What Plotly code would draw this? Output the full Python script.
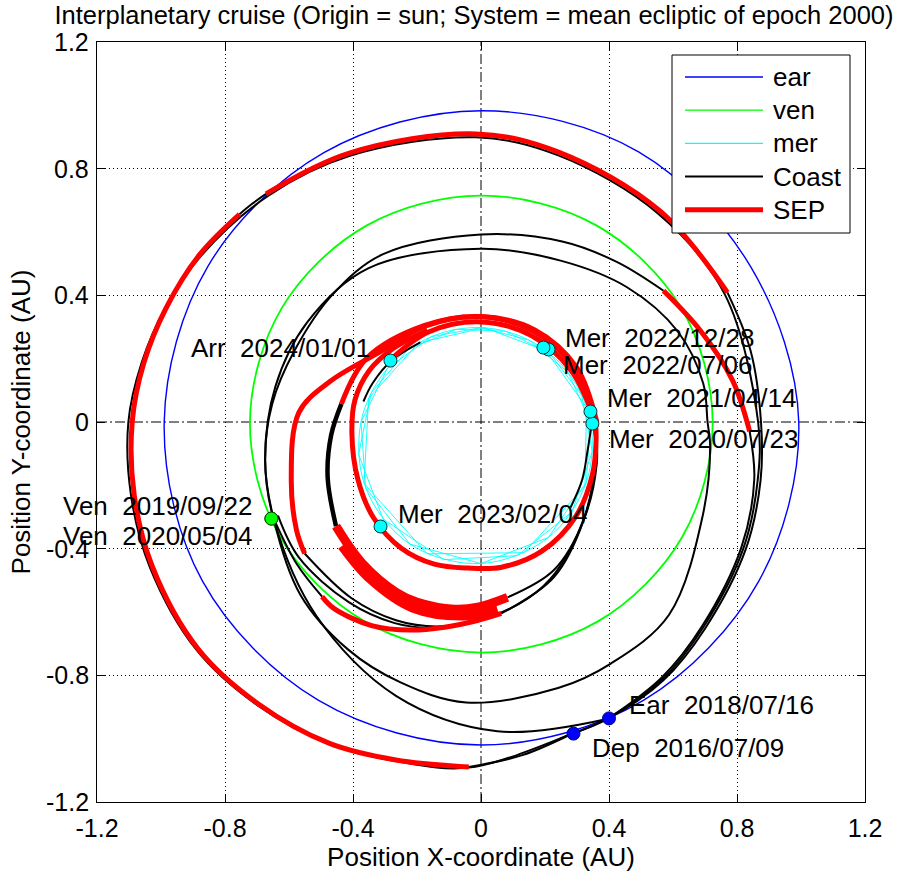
import numpy as np
import plotly.graph_objects as go

# ---------------- data (polar: degrees, AU) ----------------
earth_deg = [0, 30, 60, 90, 120, 150, 180, 210, 240, 270, 300, 330, 360]
earth_au = [0.993, 0.975, 0.985, 0.983, 0.982, 0.985, 0.990, 1.005, 1.015, 1.020, 1.015, 1.003, 0.993]

venus_deg = [0, 30, 60, 90, 120, 150, 180, 210, 240, 270, 300, 330, 360]
venus_au = [0.724, 0.722, 0.718, 0.715, 0.716, 0.719, 0.722, 0.725, 0.727, 0.728, 0.728, 0.726, 0.724]

mercury_a_deg = [0, 30, 60, 90, 120, 150, 180, 210, 240, 270, 300, 330, 360]
mercury_a_au = [0.342, 0.314, 0.299, 0.298, 0.311, 0.338, 0.375, 0.416, 0.445, 0.447, 0.421, 0.380, 0.342]
mercury_b_deg = [15, 45, 75, 105, 135, 165, 195, 225, 255, 285, 315, 345, 375]
mercury_b_au = [0.326, 0.305, 0.297, 0.303, 0.323, 0.355, 0.396, 0.433, 0.450, 0.437, 0.402, 0.360, 0.326]
mercury_c_deg = [8, 48, 88, 128, 168, 208, 248, 288, 328, 368]
mercury_c_au = [0.333, 0.303, 0.298, 0.317, 0.359, 0.414, 0.449, 0.434, 0.383, 0.333]

# Earth-Earth phase, revolution 1
coast_o1a_deg = [286, 293, 305, 317, 334, 348, 360, 375, 388]
coast_o1a_au = [1.025, 1.018, 0.995, 0.957, 0.920, 0.893, 0.875, 0.872, 0.872]
sep_o1a_deg = [388, 410, 434, 451, 476, 493]
sep_o1a_au = [0.872, 0.870, 0.886, 0.910, 0.944, 0.985]
coast_o1b_deg = [493, 496, 499]
coast_o1b_au = [0.985, 0.993, 1.000]
sep_o1b_deg = [499, 509, 520, 530, 540, 552, 564, 579, 592, 605, 616, 628]
sep_o1b_au = [1.000, 1.026, 1.048, 1.070, 1.090, 1.108, 1.124, 1.138, 1.130, 1.120, 1.100, 1.090]
coast_o1c_deg = [628, 637, 646]
coast_o1c_au = [1.090, 1.060, 1.025]

# Earth-Earth phase, revolution 2
coast_o2_deg = [286, 293, 305, 317, 334, 348, 360, 388, 410, 434, 451, 476, 493, 509, 520, 530, 540, 552, 564, 579, 592, 605, 616, 628, 646]
coast_o2_au = [1.025, 1.016, 0.990, 0.950, 0.912, 0.884, 0.866, 0.862, 0.860, 0.876, 0.899, 0.935, 0.976, 1.020, 1.050, 1.077, 1.102, 1.118, 1.132, 1.144, 1.135, 1.122, 1.103, 1.092, 1.025]

# Earth -> Venus transfer
coast_t2a_deg = [293, 305, 317, 334, 348, 358]
coast_t2a_au = [1.018, 0.985, 0.945, 0.905, 0.873, 0.840]
sep_t2_deg = [358, 369.5, 382.8, 396]
sep_t2_au = [0.840, 0.797, 0.744, 0.705]
coast_t2b_deg = [396, 410, 426, 450, 480, 499, 519, 535, 550, 565, 590, 613, 633, 653]
coast_t2b_au = [0.705, 0.660, 0.624, 0.592, 0.612, 0.614, 0.625, 0.655, 0.685, 0.716, 0.800, 0.905, 0.978, 1.018]

# Venus -> Venus loop
coast_t3_deg = [205, 224, 240, 253, 267, 286, 298, 314, 337, 354, 360, 370, 385, 403, 424, 450, 486, 510, 530, 550, 565]
coast_t3_au = [0.716, 0.785, 0.830, 0.860, 0.887, 0.874, 0.864, 0.846, 0.753, 0.720, 0.708, 0.705, 0.678, 0.624, 0.567, 0.547, 0.600, 0.628, 0.652, 0.685, 0.716]

# Venus -> Mercury
coast_i1a_deg = [205, 218, 228]
coast_i1a_au = [0.716, 0.730, 0.742]
sep_i1_deg = [228, 232, 242, 251.5, 260, 269, 276]
sep_i1_au = [0.742, 0.747, 0.728, 0.693, 0.658, 0.627, 0.608]
coast_i1b_deg = [276, 295, 316, 340, 360]
coast_i1b_au = [0.608, 0.540, 0.446, 0.380, 0.352]

# Mercury loops
sep_m1a_deg = [0, 30, 60, 90, 120, 146, 165, 177, 197, 210.6, 217]
sep_m1a_au = [0.352, 0.338, 0.330, 0.332, 0.350, 0.389, 0.490, 0.570, 0.620, 0.670, 0.690]
coast_m1b_deg = [217, 234, 247, 258, 270, 285, 296, 316, 340, 360]
coast_m1b_au = [0.690, 0.688, 0.680, 0.660, 0.625, 0.575, 0.530, 0.445, 0.380, 0.352]
coast_m1c_deg = [205, 217, 234, 247, 258]
coast_m1c_au = [0.700, 0.712, 0.703, 0.690, 0.668]

sep_m2a_deg = [0, 30, 60, 90, 120, 150.6, 172.5]
sep_m2a_au = [0.362, 0.345, 0.336, 0.333, 0.352, 0.410, 0.440]
coast_m2a_deg = [172.5, 185, 200, 216]
coast_m2a_au = [0.440, 0.470, 0.510, 0.560]
sep_m2b_deg = [216, 230, 244, 250.5, 262, 269, 278.5]
sep_m2b_au = [0.560, 0.580, 0.600, 0.603, 0.597, 0.585, 0.560]
sep_m2c_deg = [222, 235, 250, 265, 275]
sep_m2c_au = [0.585, 0.605, 0.625, 0.615, 0.595]
coast_m2b_deg = [278.5, 296, 316, 340, 360]
coast_m2b_au = [0.560, 0.520, 0.446, 0.385, 0.357]

sep_m3a_deg = [120, 140, 155, 170, 185, 205, 222, 238, 252, 265, 278, 295, 315, 335, 350, 360]
sep_m3a_au = [0.335, 0.360, 0.385, 0.400, 0.405, 0.425, 0.452, 0.470, 0.472, 0.463, 0.463, 0.450, 0.420, 0.385, 0.365, 0.358]
sep_m3b_deg = [0, 30, 60, 90, 120, 145.7]
sep_m3b_au = [0.358, 0.325, 0.315, 0.316, 0.328, 0.345]
coast_m3a_deg = [127, 145, 160, 170]
coast_m3a_au = [0.315, 0.340, 0.360, 0.373]
coast_m3b_deg = [316, 330, 345, 358]
coast_m3b_au = [0.389, 0.365, 0.345, 0.345]

# flyby events
event_body = ["Dep", "Ear", "Ven", "Ven", "Mer", "Mer", "Mer", "Mer", "Mer", "Arr"]
event_date = ["2016/07/09", "2018/07/16", "2019/09/22", "2020/05/04", "2020/07/23",
              "2021/04/14", "2022/07/06", "2022/12/28", "2023/02/04", "2024/01/01"]
event_x = [0.289, 0.400, -0.655, -0.655, 0.348, 0.342, 0.211, 0.195, -0.314, -0.283]
event_y = [-0.984, -0.936, -0.305, -0.305, -0.005, 0.033, 0.229, 0.235, -0.330, 0.194]

tick_vals = [-1.2, -0.8, -0.4, 0, 0.4, 0.8, 1.2]
tick_text = ["-1.2", "-0.8", "-0.4", "0", "0.4", "0.8", "1.2"]
legend_labels = ["ear", "ven", "mer", "Coast", "SEP"]

# ---------------- helpers ----------------
def arc_xy(deg, au):
    t = np.radians(np.asarray(deg, dtype=float))
    r = np.asarray(au, dtype=float)
    return list(r * np.cos(t)), list(r * np.sin(t))


def joined(arcs):
    xs, ys = [], []
    for d, a in arcs:
        x, y = arc_xy(d, a)
        xs += x + [None]
        ys += y + [None]
    return xs, ys


FONT = "Liberation Sans, Arial, Helvetica, sans-serif"
BLUE, GREEN, CYAN, RED = "#0000FF", "#00FF00", "#00FFFF", "#FF0000"

fig = go.Figure()


def add_lines(arcs, color, width, shape="spline"):
    x, y = joined(arcs)
    fig.add_trace(go.Scatter(x=x, y=y, mode="lines", connectgaps=False, showlegend=False,
                             hoverinfo="skip",
                             line=dict(color=color, width=width, shape=shape, smoothing=1.0)))


# planets
add_lines([(earth_deg, earth_au)], BLUE, 1.4)
add_lines([(venus_deg, venus_au)], GREEN, 1.8)
add_lines([(mercury_a_deg, mercury_a_au), (mercury_b_deg, mercury_b_au),
           (mercury_c_deg, mercury_c_au)], CYAN, 0.9, shape="linear")
add_lines([(mercury_a_deg, mercury_a_au)], CYAN, 0.9)

# coast arcs
add_lines([(coast_o1a_deg, coast_o1a_au), (coast_o1b_deg, coast_o1b_au), (coast_o1c_deg, coast_o1c_au),
           (coast_o2_deg, coast_o2_au), (coast_t2a_deg, coast_t2a_au), (coast_t2b_deg, coast_t2b_au),
           (coast_t3_deg, coast_t3_au), (coast_i1a_deg, coast_i1a_au), (coast_i1b_deg, coast_i1b_au),
           (coast_m1b_deg, coast_m1b_au), (coast_m1c_deg, coast_m1c_au), (coast_m2b_deg, coast_m2b_au),
           (coast_m3a_deg, coast_m3a_au), (coast_m3b_deg, coast_m3b_au)], "black", 2)
add_lines([(coast_m2a_deg, coast_m2a_au)], "black", 4.5)

# SEP arcs
add_lines([(sep_o1a_deg, sep_o1a_au), (sep_o1b_deg, sep_o1b_au), (sep_t2_deg, sep_t2_au),
           (sep_i1_deg, sep_i1_au), (sep_m1a_deg, sep_m1a_au), (sep_m2a_deg, sep_m2a_au),
           (sep_m3a_deg, sep_m3a_au), (sep_m3b_deg, sep_m3b_au)], RED, 5)
add_lines([(sep_m2b_deg, sep_m2b_au), (sep_m2c_deg, sep_m2c_au)], RED, 9)

# event markers
marker_colors = {"Dep": BLUE, "Ear": BLUE, "Ven": GREEN, "Mer": CYAN, "Arr": CYAN}
marker_edges = {"Dep": "#00008B", "Ear": "#00008B", "Ven": "#004400", "Mer": "#003333", "Arr": "#003333"}
fig.add_trace(go.Scatter(
    x=event_x, y=event_y, mode="markers", showlegend=False, hoverinfo="skip",
    marker=dict(size=13, color=[marker_colors[b] for b in event_body],
                line=dict(color=[marker_edges[b] for b in event_body], width=1))))

# event labels (offsets in px relative to marker)
label_offsets = [(17, -14, "left"), (18, 13, "left"), (-17, 13, "right"), (-17, -17, "right"),
                 (15, -15, "left"), (15, 14, "left"), (12, -16, "left"), (20, 10, "left"),
                 (15, 13, "left"), (-18, 13, "right")]
for b, d, x, y, (dx, dy, anc) in zip(event_body, event_date, event_x, event_y, label_offsets):
    fig.add_annotation(x=x, y=y, xref="x", yref="y", text=b + "\u00a0 " + d, showarrow=False,
                       xanchor=anc, yanchor="middle", xshift=dx, yshift=dy,
                       font=dict(family=FONT, size=26, color="black"))

# y tick labels placed next to the axis line
for v, t in zip(tick_vals, tick_text):
    fig.add_annotation(xref="paper", x=0, yref="y", y=v, text=t, showarrow=False,
                       xanchor="right", yanchor="middle", xshift=-6,
                       font=dict(family=FONT, size=25, color="black"))

# zero lines (dash-dot)
fig.add_shape(type="line", xref="x", yref="y", x0=-1.2, x1=1.2, y0=0, y1=0, layer="below",
              line=dict(color="black", width=1, dash="10px,3px,2px,3px"))
fig.add_shape(type="line", xref="x", yref="y", x0=0, x1=0, y0=-1.2, y1=1.2, layer="below",
              line=dict(color="black", width=1, dash="10px,3px,2px,3px"))

# manual legend box (screen pixel layout -> paper fractions of plot area)
SL, SR, ST, SB = 97, 865, 42, 802
px = lambda v: (v - SL) / (SR - SL)
py = lambda v: (SB - v) / (SB - ST)
fig.add_shape(type="rect", xref="paper", yref="paper", x0=px(672), x1=px(850), y0=py(233), y1=py(55),
              fillcolor="white", line=dict(color="black", width=1), layer="above")
legend_styles = [(BLUE, 1.3), (GREEN, 1.3), (CYAN, 1.3), ("black", 2), (RED, 5)]
for i, (lab, (col, w)) in enumerate(zip(legend_labels, legend_styles)):
    yy = 77 + i * 33.2
    fig.add_shape(type="line", xref="paper", yref="paper", x0=px(685), x1=px(763), y0=py(yy), y1=py(yy),
                  line=dict(color=col, width=w), layer="above")
    fig.add_annotation(xref="paper", yref="paper", x=px(771), y=py(yy), text=lab, showarrow=False,
                       xanchor="left", yanchor="middle", font=dict(family=FONT, size=26, color="black"))

axis_common = dict(range=[-1.2, 1.2], tickmode="array", tickvals=tick_vals, ticktext=tick_text,
                   ticks="inside", ticklen=8, tickwidth=1, tickcolor="black",
                   showline=True, linecolor="black", linewidth=1, mirror="ticks",
                   showgrid=False, zeroline=False, fixedrange=True, automargin=False,
                   tickfont=dict(family=FONT, size=25, color="black"),
                   minor=dict(tickmode="array", tickvals=[-0.8, -0.4, 0.4, 0.8], showgrid=True,
                              gridcolor="black", griddash="1px,3px", gridwidth=1, ticks=""))
fig.update_xaxes(**axis_common, ticklabelstandoff=4,
                 title=dict(text="Position X-coordinate (AU)", standoff=4,
                            font=dict(family=FONT, size=26, color="black")))
fig.update_yaxes(**axis_common, showticklabels=False,
                 title=dict(text="Position Y-coordinate (AU)", standoff=57,
                            font=dict(family=FONT, size=26, color="black")))

# full-window figure (the page's default body margin is removed after drawing)
W, H = 908, 877
fig.update_layout(
    width=W, height=H,
    margin=dict(l=SL, r=W - SR, t=ST, b=H - SB, pad=0, autoexpand=False),
    paper_bgcolor="white", plot_bgcolor="white",
    title=dict(text="Interplanetary cruise (Origin = sun; System = mean ecliptic of epoch 2000)",
               x=474 / W, xref="container", xanchor="center", y=1 - 15 / H, yref="container",
               yanchor="middle", font=dict(family=FONT, size=25.5, color="black")),
    showlegend=False,
)

fig.write_html("out.html", config={"displayModeBar": False},
               post_script="document.body.style.margin='0';")
